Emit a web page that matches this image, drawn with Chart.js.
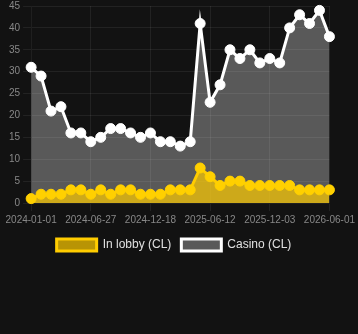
<!DOCTYPE html>
<html>
<head>
<meta charset="utf-8">
<script src="https://cdn.jsdelivr.net/npm/chart.js@4/dist/chart.umd.min.js"></script>
<style>
  html, body { margin: 0; padding: 0; background: #121212; }
  #wrap { position: relative; width: 358px; height: 261px; }
</style>
</head>
<body>
<div id="wrap"><canvas id="c"></canvas></div>
<script>
const categories = [
  "2024-01-01","2024-01-30","2024-02-28","2024-03-29","2024-04-28","2024-05-28",
  "2024-06-27","2024-07-26","2024-08-25","2024-09-23","2024-10-22","2024-11-20",
  "2024-12-18","2025-01-17","2025-02-15","2025-03-16","2025-04-14","2025-05-13",
  "2025-06-12","2025-07-11","2025-08-09","2025-09-07","2025-10-06","2025-11-04",
  "2025-12-03","2026-01-02","2026-02-01","2026-03-03","2026-04-02","2026-05-02",
  "2026-06-01"
];
const inLobby = [1,2,2,2,3,3,2,3,2,3,3,2,2,2,3,3,3,8,6,4,5,5,4,4,4,4,4,3,3,3,3];
const casino  = [31,29,21,22,16,16,14,15,17,17,16,15,16,14,14,13,14,41,23,27,35,33,35,32,33,32,40,43,41,44,38];
const seriesNames = ["In lobby (CL)", "Casino (CL)"];

new Chart(document.getElementById('c'), {
  type: 'line',
  data: {
    labels: categories,
    datasets: [
      {
        label: seriesNames[0],
        data: inLobby,
        borderColor: '#ffcc00',
        backgroundColor: 'rgba(255,204,0,0.7)',
        pointBackgroundColor: '#ffd000',
        pointBorderColor: '#ffd000',
        borderWidth: 3,
        pointRadius: 5,
        pointBorderWidth: 1,
        fill: 'origin',
        tension: 0
      },
      {
        label: seriesNames[1],
        data: casino,
        borderColor: '#ffffff',
        backgroundColor: 'rgba(255,255,255,0.3)',
        pointBackgroundColor: '#ffffff',
        pointBorderColor: '#ffffff',
        borderWidth: 3,
        pointRadius: 5,
        pointBorderWidth: 1,
        fill: 'origin',
        tension: 0
      }
    ]
  },
  options: {
    responsive: true,
    maintainAspectRatio: false,
    animation: false,
    layout: { padding: { left: 6, right: 16, top: 0, bottom: 0 } },
    plugins: {
      legend: {
        position: 'bottom',
        labels: { color: '#e0e0e0', font: { size: 12 } }
      },
      tooltip: { enabled: false }
    },
    scales: {
      x: {
        grid: { color: 'rgba(255,255,255,0.07)' },
        ticks: { color: '#888888', font: { size: 10 }, maxRotation: 0, autoSkip: true, maxTicksLimit: 6 }
      },
      y: {
        beginAtZero: true,
        grid: { color: 'rgba(255,255,255,0.07)' },
        ticks: { color: '#888888', font: { size: 10, lineHeight: 0.6 }, stepSize: 5 }
      }
    }
  }
});
</script>
</body>
</html>
